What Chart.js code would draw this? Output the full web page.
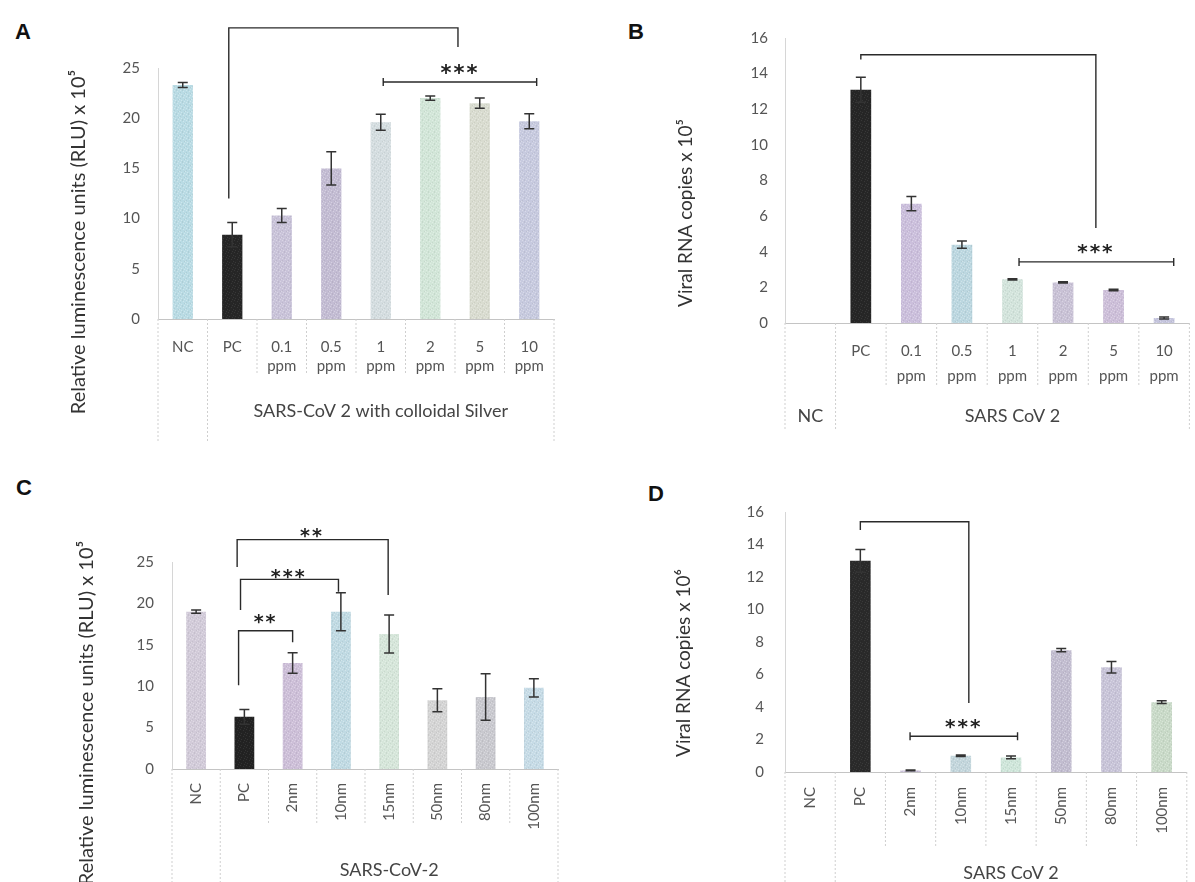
<!DOCTYPE html>
<html lang="en">
<head>
<meta charset="UTF-8">
<title>SARS-CoV-2 colloidal silver</title>
<script src="https://cdn.jsdelivr.net/npm/chart.js"></script>
<style>
    body { margin: 0; background: #fff; width: 1195px; height: 882px; position: relative; overflow: hidden; }
    .panel { position: absolute; }
    .letter { position: absolute; font: bold 22px "Liberation Sans", Arial, sans-serif; color: #111; }
</style>
</head>
<body>
<div class="letter" style="left:15px;top:19px">A</div>
<div class="letter" style="left:628px;top:19px">B</div>
<div class="letter" style="left:16px;top:475px">C</div>
<div class="letter" style="left:648px;top:481px">D</div>

<div class="panel" style="left:0;top:0;width:597px;height:441px"><canvas id="chartA"></canvas></div>
<div class="panel" style="left:597px;top:0;width:598px;height:441px"><canvas id="chartB"></canvas></div>
<div class="panel" style="left:0;top:441px;width:597px;height:441px"><canvas id="chartC"></canvas></div>
<div class="panel" style="left:597px;top:441px;width:598px;height:441px"><canvas id="chartD"></canvas></div>

<script>
// ---- datos ----
const catsA = ['NC', 'PC', '0.1 ppm', '0.5 ppm', '1 ppm', '2 ppm', '5 ppm', '10 ppm'];
const valuesA = [23.3, 8.4, 10.3, 15.0, 19.6, 22.0, 21.5, 19.7];
const errorsA = [0.25, 1.2, 0.7, 1.65, 0.8, 0.2, 0.5, 0.75];

const catsB = ['NC', 'PC', '0.1 ppm', '0.5 ppm', '1 ppm', '2 ppm', '5 ppm', '10 ppm'];
const valuesB = [0, 13.1, 6.7, 4.4, 2.45, 2.28, 1.85, 0.28];
const errorsB = [0, 0.7, 0.4, 0.2, 0.04, 0.04, 0.04, 0.05];

const catsC = ['NC', 'PC', '2nm', '10nm', '15nm', '50nm', '80nm', '100nm'];
const valuesC = [19.0, 6.3, 12.8, 19.0, 16.3, 8.3, 8.7, 9.8];
const errorsC = [0.2, 0.9, 1.25, 2.3, 2.3, 1.4, 2.8, 1.1];

const catsD = ['NC', 'PC', '2nm', '10nm', '15nm', '50nm', '80nm', '100nm'];
const valuesD = [0, 13.0, 0.1, 1.0, 0.9, 7.5, 6.45, 4.3];
const errorsD = [0, 0.7, 0.03, 0.05, 0.08, 0.1, 0.35, 0.08];

// significance marks: category index (may be fractional) and value on the y scale
const bracketsA = [{ x1: 0.93, y1: 12.0, top: 29.0, x2: 5.56, y2: 27.1 }];
const starLinesA = [{ from: 4.05, to: 7.15, y: 23.6, text: '***', textX: 5.6, textY: 24.8 }];
const bracketsB = [{ x1: 1, y1: 14.8, top: 15.06, x2: 5.65, y2: 5.34 }];
const starLinesB = [{ from: 4.13, to: 7.19, y: 3.43, text: '***', textX: 5.65, textY: 4.25 }];
const bracketsC = [
    { x1: 0.88, y1: 10.1, top: 16.7, x2: 2, y2: 15.3, text: '**', textX: 1.44, textY: 18.2 },
    { x1: 0.92, y1: 19.2, top: 22.9, x2: 2.95, y2: 21.4, text: '***', textX: 1.92, textY: 23.7 },
    { x1: 0.85, y1: 24.4, top: 27.7, x2: 3.98, y2: 21.0, text: '**', textX: 2.4, textY: 28.6 }
];
const bracketsD = [{ x1: 1, y1: 14.9, top: 15.4, x2: 3.16, y2: 4.25 }];
const starLinesD = [{ from: 1.99, to: 4.13, y: 2.2, text: '***', textX: 3.06, textY: 3.0 }];

// colores de las barras
const colorsA = ['#b9dbe4', '#262626', '#c9c3d9', '#c3bcd3', '#d4dde0', '#d2e6d8', '#d9dcd0', '#c7cadf'];
const colorsB = ['#ffffff', '#262626', '#cbbfdc', '#bcd7e0', '#d3e4dc', '#c9c2d6', '#cdbfd9', '#c5c5dd'];
const colorsC = ['#d2cbd9', '#222222', '#cdbfd8', '#c0dae3', '#d6e6da', '#d4d4d4', '#c9c9cf', '#c6dbe6'];
const colorsD = ['#ffffff', '#2a2a2a', '#c9c0d8', '#c3d6dc', '#cfe6da', '#c2bdd0', '#c8c4d8', '#c9dac8'];

const FONT = 'Lato, "Open Sans", sans-serif';

// textura moteada fija para imitar la impresion
function speckle(color) {
    const c = document.createElement('canvas');
    c.width = 6; c.height = 6;
    const g = c.getContext('2d');
    g.fillStyle = color;
    g.fillRect(0, 0, 6, 6);
    const dark = color === '#262626' || color === '#222222' || color === '#2a2a2a';
    g.fillStyle = dark ? 'rgba(255,255,255,0.08)' : 'rgba(255,255,255,0.3)';
    [[0, 0], [3, 1], [5, 3], [1, 4], [4, 5]].forEach(p => g.fillRect(p[0], p[1], 1, 1));
    g.fillStyle = 'rgba(0,0,0,0.06)';
    [[2, 0], [0, 2], [4, 3], [2, 5]].forEach(p => g.fillRect(p[0], p[1], 1, 1));
    return g.createPattern(c, 'repeat');
}

function extras(p) {
    return {
        id: 'extras',
        afterDatasetsDraw(chart) {
            const ctx = chart.ctx, xs = chart.scales.x, ys = chart.scales.y, area = chart.chartArea;
            const n = p.cats.length, step = (area.right - area.left) / n;
            ctx.save();

            // separadores del eje de categorias
            ctx.strokeStyle = '#cfcfcf';
            ctx.lineWidth = 1;
            ctx.setLineDash([2, 2]);
            for (let i = 0; i <= n; i++) {
                const bx = area.left + i * step;
                const long = (i === 0 || i === 1 || i === n);
                ctx.beginPath();
                ctx.moveTo(bx, area.bottom);
                ctx.lineTo(bx, long ? p.longTo : p.shortTo);
                ctx.stroke();
            }
            ctx.setLineDash([]);

            // barras de error
            ctx.strokeStyle = '#333';
            ctx.lineWidth = 1.5;
            p.values.forEach((v, i) => {
                const e = p.errors[i];
                if (!e) return;
                const px = xs.getPixelForValue(i);
                const t = ys.getPixelForValue(v + e), b = ys.getPixelForValue(v - e);
                ctx.beginPath();
                ctx.moveTo(px, t); ctx.lineTo(px, b);
                ctx.moveTo(px - 5, t); ctx.lineTo(px + 5, t);
                ctx.moveTo(px - 5, b); ctx.lineTo(px + 5, b);
                ctx.stroke();
            });

            // corchetes y asteriscos
            ctx.strokeStyle = '#2a2a2a';
            ctx.fillStyle = '#222';
            ctx.lineWidth = 1.4;
            ctx.textAlign = 'center';
            ctx.textBaseline = 'middle';
            ctx.font = 'bold ' + p.starSize + 'px "DejaVu Sans", sans-serif';
            ctx.letterSpacing = '2px';
            (p.brackets || []).forEach(br => {
                const x1 = xs.getPixelForValue(br.x1), x2 = xs.getPixelForValue(br.x2);
                const top = ys.getPixelForValue(br.top);
                ctx.beginPath();
                ctx.moveTo(x1, ys.getPixelForValue(br.y1));
                ctx.lineTo(x1, top);
                ctx.lineTo(x2, top);
                ctx.lineTo(x2, ys.getPixelForValue(br.y2));
                ctx.stroke();
                if (br.text) ctx.fillText(br.text, xs.getPixelForValue(br.textX), ys.getPixelForValue(br.textY) + 5);
            });
            (p.starLines || []).forEach(s => {
                const a = xs.getPixelForValue(s.from), b = xs.getPixelForValue(s.to), y = ys.getPixelForValue(s.y);
                ctx.beginPath();
                ctx.moveTo(a, y); ctx.lineTo(b, y);
                ctx.moveTo(a, y - 4); ctx.lineTo(a, y + 4);
                ctx.moveTo(b, y - 4); ctx.lineTo(b, y + 4);
                ctx.stroke();
                ctx.fillText(s.text, xs.getPixelForValue(s.textX), ys.getPixelForValue(s.textY) + 5);
            });
            ctx.letterSpacing = '0px';

            // titulos de grupo
            ctx.font = '18px ' + FONT;
            ctx.fillStyle = '#444';
            const groupX = (xs.getPixelForValue(1) + xs.getPixelForValue(n - 1)) / 2;
            ctx.fillText(p.group, groupX, p.groupY);
            if (p.ncLow) ctx.fillText('NC', xs.getPixelForValue(0), p.groupY);

            // titulo del eje y
            ctx.translate(p.titleX, p.titleY);
            ctx.rotate(-Math.PI / 2);
            ctx.font = p.titleSize + 'px ' + FONT;
            ctx.fillStyle = '#333';
            ctx.fillText(p.title, 0, 0);
            ctx.restore();
        }
    };
}

function makeChart(id, p) {
    const rotated = !!p.rotated;
    return new Chart(document.getElementById(id), {
        type: 'bar',
        data: {
            labels: p.cats,
            datasets: [{
                data: p.values,
                backgroundColor: p.colors.map(speckle),
                barPercentage: 0.41,
                categoryPercentage: 1
            }]
        },
        options: {
            responsive: true,
            maintainAspectRatio: false,
            animation: false,
            layout: { padding: p.pad },
            plugins: { legend: { display: false }, tooltip: { enabled: false } },
            scales: {
                x: {
                    grid: { display: false, drawTicks: false },
                    border: { color: '#c4c4c4', dash: [2, 2] },
                    ticks: {
                        autoSkip: false,
                        maxRotation: rotated ? 90 : 0,
                        minRotation: rotated ? 90 : 0,
                        padding: p.xpad,
                        color: '#555',
                        font: { size: 15, family: FONT, lineHeight: p.lineHeight || 1.2 },
                        callback: (v, i) => {
                            if (p.ncLow && i === 0) return '';
                            return rotated ? p.cats[i] : p.cats[i].split(' ');
                        }
                    },
                    afterFit: s => { s.height = p.xh; }
                },
                y: {
                    min: 0,
                    max: p.max,
                    ticks: { stepSize: p.step, padding: p.ypad, color: '#555', font: { size: 15, family: FONT } },
                    grid: { display: false, drawTicks: false },
                    border: { color: '#d6d6d6' },
                    afterFit: s => { s.width = p.yw; }
                }
            }
        },
        plugins: [extras(p)]
    });
}

makeChart('chartA', {
    cats: catsA, values: valuesA, errors: errorsA, colors: colorsA,
    brackets: bracketsA, starLines: starLinesA,
    max: 25, step: 5,
    pad: { top: 68, right: 43, left: 0, bottom: 0 }, yw: 158, xh: 122,
    xpad: 19, ypad: 18, lineHeight: 1.25,
    longTo: 441, shortTo: 375, starSize: 21,
    group: 'SARS-CoV 2 with colloidal Silver', groupY: 411,
    title: 'Relative luminescence units (RLU) x 10\u2075', titleX: 79, titleY: 242, titleSize: 20
});

makeChart('chartB', {
    cats: catsB, values: valuesB, errors: errorsB, colors: colorsB,
    brackets: bracketsB, starLines: starLinesB,
    max: 16, step: 2,
    pad: { top: 38, right: 5, left: 0, bottom: 0 }, yw: 188, xh: 118,
    xpad: 16, ypad: 17, lineHeight: 1.65,
    longTo: 430, shortTo: 385, ncLow: true, starSize: 20,
    group: 'SARS CoV 2', groupY: 416,
    title: 'Viral RNA copies x 10\u2075', titleX: 89, titleY: 213, titleSize: 19
});

makeChart('chartC', {
    cats: catsC, values: valuesC, errors: errorsC, colors: colorsC,
    brackets: bracketsC, rotated: true,
    max: 25, step: 5,
    pad: { top: 121, right: 39, left: 0, bottom: 0 }, yw: 172, xh: 113,
    xpad: 14, ypad: 18,
    longTo: 441, shortTo: 382, starSize: 19,
    group: 'SARS-CoV-2', groupY: 429,
    title: 'Relative luminescence units (RLU) x 10\u2075', titleX: 87, titleY: 272, titleSize: 20
});

makeChart('chartD', {
    cats: catsD, values: valuesD, errors: errorsD, colors: colorsD,
    brackets: bracketsD, starLines: starLinesD, rotated: true,
    max: 16, step: 2,
    pad: { top: 71, right: 5, left: 0, bottom: 0 }, yw: 188, xh: 110,
    xpad: 15, ypad: 21,
    longTo: 441, shortTo: 406, starSize: 20,
    group: 'SARS CoV 2', groupY: 432,
    title: 'Viral RNA copies x 10\u2076', titleX: 87, titleY: 222, titleSize: 19
});
</script>
</body>
</html>
